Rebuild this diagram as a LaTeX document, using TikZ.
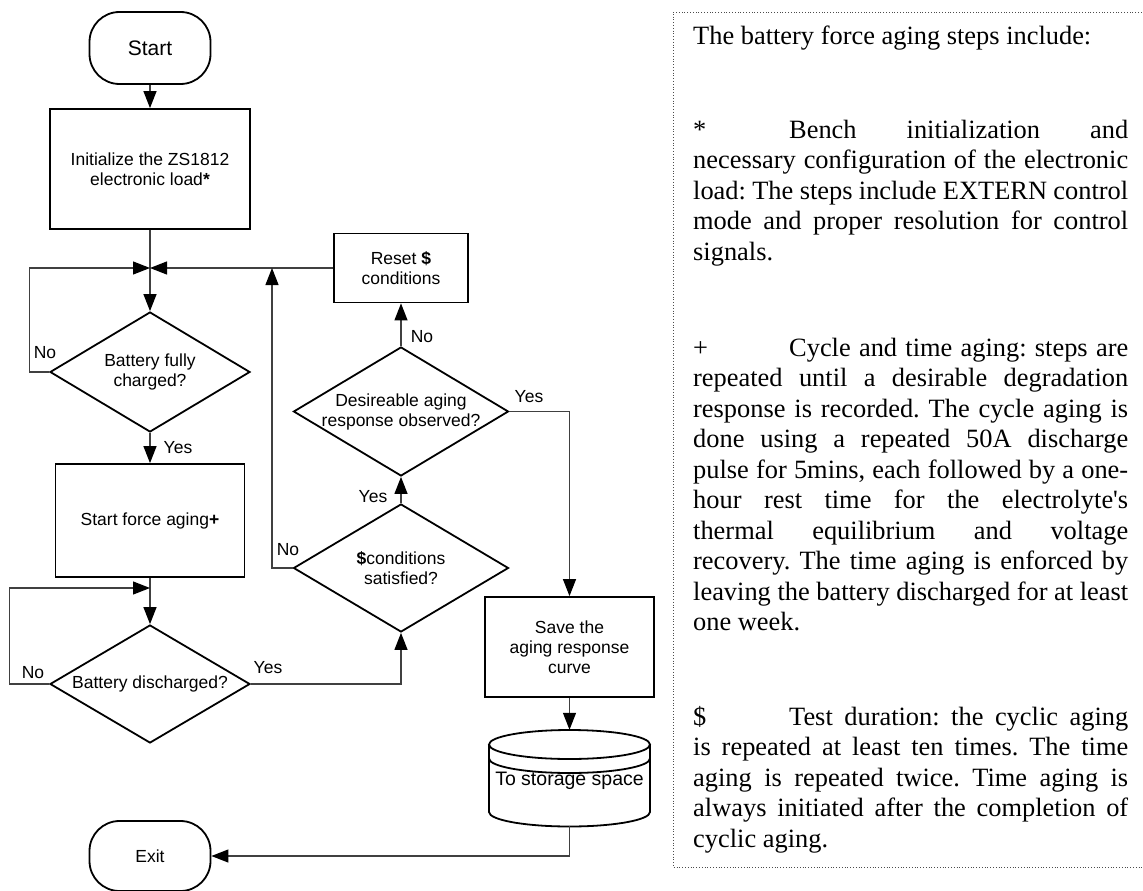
\documentclass[tikz,border=0pt]{standalone}
\usepackage{fontspec}
\setmainfont{Liberation Sans}
\newfontfamily\timesfam{Liberation Serif}
\usetikzlibrary{arrows.meta,shapes.geometric,calc}
\begin{document}
\begin{tikzpicture}[x=1pt,y=-1pt,
  box/.style={draw=black, line width=1.8pt, rectangle, align=center, inner sep=0pt, font=\fontsize{17.5}{20}\selectfont},
  term/.style={draw=black, line width=1.8pt, rectangle, rounded corners=30pt, inner sep=0pt, minimum width=121pt},
  dia/.style={draw=black, line width=1.8pt, diamond, aspect=1.67, align=center, inner sep=-8pt, font=\fontsize{17.5}{20}\selectfont},
  conn/.style={draw=black!75, line width=1.2pt},
  arr/.style={conn, -{Triangle[length=17pt,width=13pt,color=black]}},
  lbl/.style={font=\fontsize{17.5}{20}\selectfont, inner sep=0pt},
  para/.style={anchor=base west, inner sep=0pt, text width=435pt, align=justify, font=\timesfam\fontsize{26.4}{30.5}\selectfont},
  frame/.style={draw=black!70, dotted, line width=0.8pt}
]
\useasboundingbox (0,0) rectangle (1143,891);

% flowchart nodes
\node[term, minimum height=72pt, font=\fontsize{21}{25}\selectfont] (start) at (150,48) {Start};
\node[box, minimum width=200pt, minimum height=120pt] (init) at (150,169) {Initialize the ZS1812\\electronic load\textbf{*}};
\coordinate (j1) at (150,268);
\node[dia, minimum width=200pt, minimum height=120pt] (d1) at (150,372) {Battery fully\\charged?};
\node[box, minimum width=189pt, minimum height=113pt] (force) at (150,520.5) {Start force aging\textbf{+}};
\coordinate (j3) at (150,588);
\node[dia, minimum width=200pt, minimum height=118pt] (d2) at (150,684) {Battery discharged?};
\node[term, minimum height=70pt, font=\fontsize{17.5}{20}\selectfont] (exit) at (150,856) {Exit};

\node[box, minimum width=134pt, minimum height=69pt] (reset) at (401,268) {Reset \textbf{\$}\\conditions};
\coordinate (j2) at (272,268);
\node[dia, minimum width=215pt, minimum height=129pt] (desire) at (401,411.5) {Desireable aging\\response observed?};
\node[dia, minimum width=215pt, minimum height=128pt] (cond) at (401,568) {\textbf{\$}conditions\\satisfied?};
\node[box, minimum width=169pt, minimum height=100pt] (save) at (569.5,647) {Save the\\aging response\\curve};

% storage cylinder
\node[rectangle, inner sep=0pt, minimum width=161pt, minimum height=96pt] (store) at (569.5,778) {};
\node[lbl, font=\fontsize{19.5}{22}\selectfont] (storetext) at (569.5,781) {To storage space};
\begin{scope}[line width=1.8pt, draw=black]
  \draw (569.5,744.5) ellipse [x radius=80.5pt, y radius=14.5pt];
  \draw (489,758.5) arc[start angle=180, end angle=360, x radius=80.5pt, y radius=14.5pt];
  \draw (489,744.5) -- (489,812) arc[start angle=180, end angle=360, x radius=80.5pt, y radius=14.5pt] -- (650,744.5);
\end{scope}

% connectors
\draw[arr] (start) -- (init);
\draw[conn] (init) -- (j1);
\draw[arr] (j1) -- (d1);
\draw[arr] (d1.west) -- ++(-20,0) |- (j1);
\draw[arr] (reset.west) -- (j1);
\draw[arr] (cond.west) -| (j2);
\draw[arr] (desire) -- (reset);
\draw[arr] (desire.east) -| (save.north);
\draw[arr] (cond) -- (desire);
\draw[arr] (d1) -- (force);
\draw[conn] (force) -- (j3);
\draw[arr] (j3) -- (d2);
\draw[arr] (d2.west) -- ++(-40,0) |- (j3);
\draw[arr] (d2.east) -| (cond.south);
\draw[arr] (save) -- (store);
\draw[arr] (store.south) |- (exit.east);

% connector labels
\node[lbl] (l1) at (45,353) {No};
\node[lbl] (l2) at (178,448) {Yes};
\node[lbl] (l3) at (422,337) {No};
\node[lbl] (l4) at (529,397) {Yes};
\node[lbl] (l5) at (373,497) {Yes};
\node[lbl] (l6) at (288,550) {No};
\node[lbl] (l7) at (33,673) {No};
\node[lbl] (l8) at (268,668) {Yes};

% notes frame
\draw[frame] (1150,12) -- (673,12) -- (673,867) -- (1150,867);

\node[para] (p0) at (693,45) {\frenchspacing\tolerance=10000\relax The battery force aging steps include:};
\node[para] (p1) at (693,138) {\frenchspacing\tolerance=10000\hyphenpenalty=10000\relax
\makebox[96pt][l]{*}Bench initialization and\linebreak
necessary configuration of the electronic\linebreak
load: The steps include EXTERN control\linebreak
mode and proper resolution for control\linebreak
signals.};
\node[para] (p2) at (693,356) {\frenchspacing\tolerance=10000\hyphenpenalty=10000\relax
\makebox[96pt][l]{+}Cycle and time aging: steps are\linebreak
repeated until a desirable degradation\linebreak
response is recorded. The cycle aging is\linebreak
done using a repeated 50A discharge\linebreak
pulse for 5mins, each followed by a one-\linebreak
hour rest time for the electrolyte\textquotesingle s\linebreak
thermal equilibrium and voltage\linebreak
recovery. The time aging is enforced by\linebreak
leaving the battery discharged for at least\linebreak
one week.};
\node[para] (p3) at (693,725) {\frenchspacing\tolerance=10000\hyphenpenalty=10000\relax
\makebox[96pt][l]{\$}Test duration: the cyclic aging\linebreak
is repeated at least ten times. The time\linebreak
aging is repeated twice. Time aging is\linebreak
always initiated after the completion of\linebreak
cyclic aging.};
\end{tikzpicture}
\end{document}
